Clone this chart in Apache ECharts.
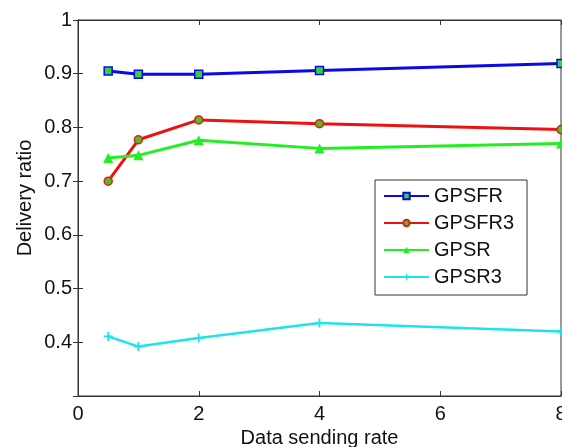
<!DOCTYPE html>
<html>
<head>
<meta charset="utf-8">
<script src="https://cdn.jsdelivr.net/npm/echarts@6/dist/echarts.min.js"></script>
<style>
  html, body { margin: 0; padding: 0; background: #fff; }
  #chart { width: 562px; height: 447px; }
</style>
</head>
<body>
<div id="chart"></div>
<script>
// data
const rates = [0.5, 1, 2, 4, 8]
const gpsfr = [0.905, 0.899, 0.899, 0.906, 0.919]
const gpsfr3 = [0.700, 0.777, 0.814, 0.807, 0.796]
const gpsr = [0.743, 0.748, 0.776, 0.761, 0.770]
const gpsr3 = [0.411, 0.392, 0.408, 0.436, 0.420]
const seriesNames = ['GPSFR', 'GPSFR3', 'GPSR', 'GPSR3']
const xTicks = [0, 2, 4, 6, 8]
const yTicks = [0.3, 0.4, 0.5, 0.6, 0.7, 0.8, 0.9, 1]

const font = 'Liberation Sans'
const axisColor = '#333'
const plus = 'path://M4,0H6V4H10V6H6V10H4V6H0V4H4Z'

const pairs = (ys) => rates.map((x, i) => [x, ys[i]])

const xBase = {
  type: 'value',
  min: xTicks[0],
  max: xTicks[xTicks.length - 1],
  interval: xTicks[1] - xTicks[0],
  splitLine: { show: false },
  axisLine: { show: true, lineStyle: { color: axisColor, width: 1 } },
  axisTick: { show: true, inside: true, length: 5, lineStyle: { color: axisColor } }
}
const yBase = {
  type: 'value',
  min: yTicks[0],
  max: yTicks[yTicks.length - 1],
  interval: 0.1,
  splitLine: { show: false },
  axisLine: { show: true, lineStyle: { color: axisColor, width: 1 } },
  axisTick: { show: true, inside: true, length: 5, lineStyle: { color: axisColor } }
}

const chart = echarts.init(document.getElementById('chart'))
chart.setOption({
  backgroundColor: '#fff',
  animation: false,
  grid: {
    left: 78, top: 20, right: 1, bottom: 51,
    outerBoundsMode: 'none',
    containLabel: false,
    show: true, borderColor: axisColor, borderWidth: 1
  },
  xAxis: [
    {
      ...xBase,
      position: 'bottom',
      name: 'Data sending rate',
      nameLocation: 'middle',
      nameGap: 32,
      nameTextStyle: { fontFamily: font, fontSize: 20, color: '#111' },
      axisLabel: { margin: 8, fontFamily: font, fontSize: 20, color: '#111' }
    },
    { ...xBase, position: 'top', axisLabel: { show: false } }
  ],
  yAxis: [
    {
      ...yBase,
      position: 'left',
      axisLabel: {
        margin: 6,
        fontFamily: font,
        fontSize: 20,
        color: '#111',
        formatter: (v) => (Math.abs(v - yTicks[0]) < 1e-6 ? '' : String(+v.toFixed(1)))
      }
    },
    { ...yBase, position: 'right', axisLabel: { show: false } }
  ],
  graphic: [
    {
      type: 'text',
      x: 25,
      y: 198,
      rotation: Math.PI / 2,
      style: {
        text: 'Delivery ratio',
        font: '20px "Liberation Sans"',
        fill: '#111',
        align: 'center',
        verticalAlign: 'middle'
      }
    }
  ],
  legend: {
    data: seriesNames,
    orient: 'vertical',
    left: 375,
    top: 180,
    backgroundColor: '#fff',
    borderColor: axisColor,
    borderWidth: 1,
    padding: [6, 13, 8, 8],
    itemGap: 7,
    itemWidth: 45,
    itemHeight: 8,
    textStyle: { fontFamily: font, fontSize: 20, color: '#111', lineHeight: 20 }
  },
  series: [
    {
      name: seriesNames[0],
      type: 'line',
      data: pairs(gpsfr),
      symbol: 'rect',
      symbolSize: 8,
      lineStyle: { color: '#0a0ae6', width: 3 },
      itemStyle: { color: '#2ed82e', borderColor: '#0a0ae6', borderWidth: 1.5 }
    },
    {
      name: seriesNames[1],
      type: 'line',
      data: pairs(gpsfr3),
      symbol: 'circle',
      symbolSize: 8,
      lineStyle: { color: '#ee1111', width: 3 },
      itemStyle: { color: '#5cb82a', borderColor: '#cc2a10', borderWidth: 1.5 }
    },
    {
      name: seriesNames[2],
      type: 'line',
      data: pairs(gpsr),
      symbol: 'triangle',
      symbolSize: 10,
      lineStyle: { color: '#22ee22', width: 3 },
      itemStyle: { color: '#22ee22' }
    },
    {
      name: seriesNames[3],
      type: 'line',
      data: pairs(gpsr3),
      symbol: plus,
      symbolSize: 9,
      lineStyle: { color: '#1ee3ec', width: 2.5 },
      itemStyle: { color: '#1ee3ec' }
    }
  ]
})
</script>
</body>
</html>
